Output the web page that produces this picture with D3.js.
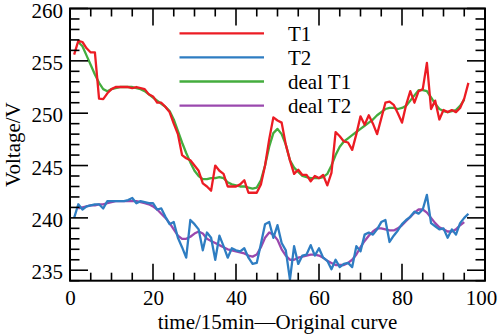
<!DOCTYPE html>
<html>
<head>
<meta charset="utf-8">
<script src="https://cdn.jsdelivr.net/npm/d3@7"></script>
<style>
  html, body { margin: 0; padding: 0; background: #fff; }
  svg { display: block; }
  text { font-family: "Liberation Serif", "Times New Roman", serif; fill: #000; }
</style>
</head>
<body>
<svg id="chart" width="498" height="334"></svg>
<script>
// ---- data ----
const timeT = d3.range(1, 97); // 1..96
const T1 = [255.6,256.9,256.8,256.2,255.8,255.8,251.4,251.35,251.9,252.3,
  252.5,252.5,252.5,252.5,252.4,252.5,252.4,252.3,251.8,251.6,
  251.0,251.0,250.6,250.1,249.0,248.0,246.0,245.7,245.5,245.0,
  244.5,243.3,243.0,242.6,245.0,244.5,244.2,243.0,243.0,243.0,
  243.2,243.6,242.4,242.4,242.4,243.2,245.0,247.5,249.6,249.3,
  249.1,247.0,245.5,244.2,244.6,244.1,244.1,243.5,244.0,243.8,
  244.1,243.1,244.3,248.2,247.8,247.3,247.2,246.5,248.0,249.7,
  248.9,249.8,249.0,248.0,249.5,251.0,251.1,250.8,250.0,249.1,
  250.8,252.1,251.0,252.1,252.3,254.8,250.4,251.2,249.4,250.3,
  250.1,250.3,250.1,250.5,251.4,252.9];
const T2 = [240.0,241.3,240.8,241.1,241.2,241.3,241.3,240.9,241.6,241.6,
  241.6,241.6,241.6,241.7,241.9,241.4,241.6,241.5,241.4,241.4,
  240.8,240.9,240.1,239.4,239.6,238.1,237.2,236.2,239.8,239.4,
  238.9,236.9,238.6,238.1,236.0,238.3,237.3,236.2,237.1,236.9,
  236.8,237.1,236.2,235.6,235.7,237.5,239.4,239.6,238.1,239.3,
  237.6,236.9,234.1,237.3,235.6,236.4,236.5,237.4,236.4,237.1,
  236.2,235.9,235.1,236.0,235.3,235.6,235.7,235.3,237.3,236.8,
  238.4,238.6,238.4,238.9,239.6,239.8,237.7,238.3,238.8,239.4,
  239.8,240.1,240.6,240.4,240.8,242.2,239.5,239.2,238.9,239.0,
  238.1,238.9,238.4,239.5,240.0,240.4];
const timeDeal = d3.range(2, 96); // 2..95
const dealT1 = [256.8,256.4,255.5,254.6,253.7,252.9,252.3,252.1,252.3,
  252.4,252.5,252.5,252.5,252.5,252.4,252.3,252.1,251.8,251.5,
  251.2,250.9,250.6,250.2,249.4,248.3,247.2,246.2,245.3,244.5,
  244.0,243.7,243.7,243.8,243.8,243.9,243.8,243.4,243.2,243.1,
  243.0,243.0,242.9,242.8,242.9,243.6,245.0,246.8,248.1,248.5,
  248.0,247.0,245.5,244.8,244.4,244.0,243.9,243.8,243.8,243.8,
  243.9,244.2,245.0,246.0,246.8,247.3,247.6,247.9,248.2,248.5,
  248.8,249.1,249.4,249.8,250.1,250.4,250.5,250.5,250.4,250.5,
  250.7,251.2,251.7,252.2,252.2,252.1,251.5,250.9,250.4,250.2,
  250.1,250.2,250.3,250.7,251.3];
const dealT2 = [240.9,241.0,241.1,241.2,241.2,241.3,241.3,241.4,241.5,
  241.6,241.6,241.6,241.6,241.6,241.6,241.5,241.4,241.3,241.1,
  240.8,240.4,240.0,239.5,238.9,238.3,238.0,238.0,238.2,238.5,
  238.7,238.5,238.0,237.8,237.6,237.4,237.2,237.0,236.9,236.8,
  236.7,236.6,236.4,236.3,236.5,237.2,238.1,238.6,238.4,237.9,
  237.0,236.4,236.0,236.0,236.2,236.3,236.4,236.5,236.5,236.4,
  236.2,235.9,235.7,235.5,235.5,235.5,235.7,236.0,236.5,237.2,
  237.8,238.3,238.7,239.0,239.0,238.9,238.8,238.8,239.0,239.3,
  239.7,240.1,240.5,240.8,240.8,240.5,240.0,239.5,239.1,238.9,
  238.7,238.7,238.9,239.3,239.6];
const seriesNames = ["T1", "T2", "deal T1", "deal T2"];
const seriesColors = ["#ec1c24", "#2e7dc2", "#44ad3e", "#9a48ae"];
const xTickLabels = [0, 20, 40, 60, 80, 100];
const yTickLabels = [235, 240, 245, 250, 255, 260];
const xLabel = "time/15min\u2014Original curve";
const yLabel = "Voltage/V";

// ---- layout ----
const L = 70, R = 485, T = 8.5, B = 280.7;
const svg = d3.select("#chart");
const x = d3.scaleLinear().domain([0, 100]).range([L, R]);
const y = d3.scaleLinear().domain([234, 260]).range([B, T]);

const series = [
  { name: seriesNames[2], xs: timeDeal, ys: dealT1, color: seriesColors[2] },
  { name: seriesNames[3], xs: timeDeal, ys: dealT2, color: seriesColors[3] },
  { name: seriesNames[0], xs: timeT, ys: T1, color: seriesColors[0] },
  { name: seriesNames[1], xs: timeT, ys: T2, color: seriesColors[1] }
];

svg.append("clipPath").attr("id", "clip").append("rect")
  .attr("x", L).attr("y", T).attr("width", R - L).attr("height", B - T);

const line = d3.line().x(d => x(d[0])).y(d => y(d[1]));
const g = svg.append("g").attr("clip-path", "url(#clip)");
series.forEach(s => {
  g.append("path")
    .datum(s.xs.map((t, i) => [t, s.ys[i]]))
    .attr("fill", "none")
    .attr("stroke", s.color)
    .attr("stroke-width", 2.3)
    .attr("stroke-linejoin", "round")
    .attr("d", line);
});

// ---- axes (ticks pointing inward) ----
const fontSize = 21;
const yMinor = d3.range(234, 261, 1);
const xMinor = d3.range(0, 101, 5);

function drawTicksY(xpos, dir) {
  const ga = svg.append("g");
  yMinor.forEach(v => {
    const major = v % 5 === 0;
    const len = major ? 18 : 9.5;
    ga.append("line").attr("x1", xpos).attr("x2", xpos + dir * len)
      .attr("y1", y(v)).attr("y2", y(v))
      .attr("stroke", "#000").attr("stroke-width", 1.6);
  });
}
function drawTicksX(ypos, dir) {
  const ga = svg.append("g");
  xMinor.forEach(v => {
    const major = v % 20 === 0;
    const len = major ? 17 : 8;
    ga.append("line").attr("y1", ypos).attr("y2", ypos + dir * len)
      .attr("x1", x(v)).attr("x2", x(v))
      .attr("stroke", "#000").attr("stroke-width", 1.6);
  });
}
// d3 axes for tick labels
const yAxis = svg.append("g").attr("transform", `translate(${L},0)`)
  .call(d3.axisLeft(y).tickValues(yTickLabels).tickSize(0).tickPadding(7));
yAxis.select(".domain").remove();
yAxis.selectAll("text").style("font-size", fontSize + "px")
  .style("font-family", '"Liberation Serif", "Times New Roman", serif')
  .attr("y", 2);

const xAxis = svg.append("g").attr("transform", `translate(0,${B})`)
  .call(d3.axisBottom(x).tickValues(xTickLabels).tickSize(0).tickPadding(9));
xAxis.select(".domain").remove();
xAxis.selectAll("text").style("font-size", fontSize + "px")
  .style("font-family", '"Liberation Serif", "Times New Roman", serif')
  .attr("dx", d => d === 100 ? -4 : 0);

drawTicksY(L, 1);
drawTicksY(R, -1);
drawTicksX(B, -1);
drawTicksX(T, 1);

svg.append("rect").attr("x", L).attr("y", T).attr("width", R - L).attr("height", B - T)
  .attr("fill", "none").attr("stroke", "#000").attr("stroke-width", 2);

// axis titles
svg.append("text").attr("x", (L + R) / 2).attr("y", 328.5)
  .attr("text-anchor", "middle").style("font-size", fontSize + "px").text(xLabel);
svg.append("text")
  .attr("transform", `translate(20,${(T + B) / 2}) rotate(-90)`)
  .attr("text-anchor", "middle").style("font-size", fontSize + "px").text(yLabel);

// legend
const lg = svg.append("g");
seriesNames.forEach((name, i) => {
  const yy = 33.3 + i * 24.1;
  lg.append("line").attr("x1", 179.5).attr("x2", 264).attr("y1", yy).attr("y2", yy)
    .attr("stroke", seriesColors[i]).attr("stroke-width", 2.3);
  lg.append("text").attr("x", 288).attr("y", yy + 7.5)
    .style("font-size", fontSize + "px").text(name);
});
</script>
</body>
</html>
